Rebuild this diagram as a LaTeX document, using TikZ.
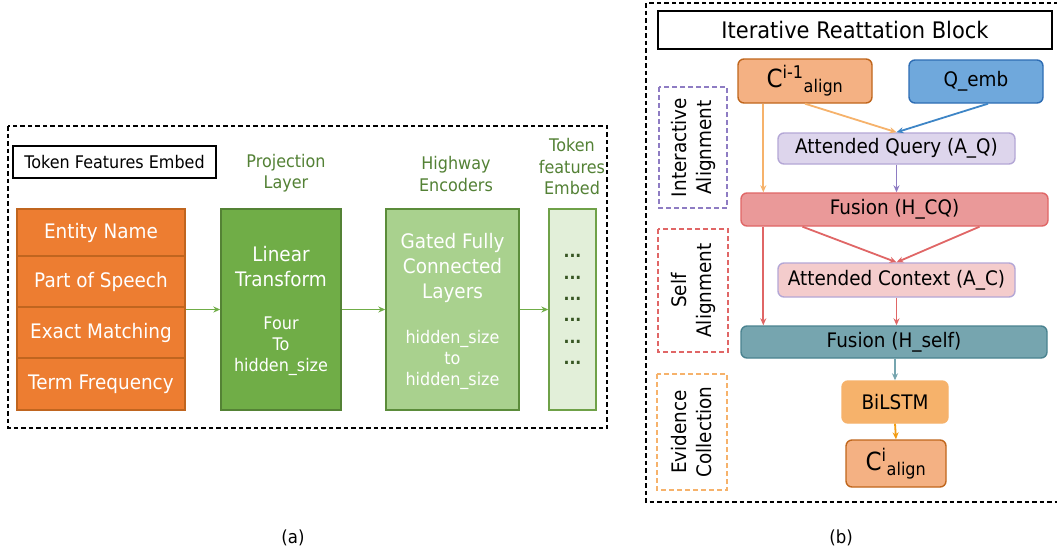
\documentclass[tikz,border=0pt]{standalone}
\usepackage{fontspec}
\setmainfont{DejaVu Sans}[FakeStretch=0.92]
\usetikzlibrary{arrows.meta}

\definecolor{featorange}{HTML}{ED7D31}
\definecolor{featedge}{HTML}{C0651F}
\definecolor{lingreen}{HTML}{70AD47}
\definecolor{linedge}{HTML}{548235}
\definecolor{hwgreen}{HTML}{A9D18E}
\definecolor{hwedge}{HTML}{5B8C3A}
\definecolor{embgreen}{HTML}{E2EFD9}
\definecolor{embedge}{HTML}{6FA148}
\definecolor{dotgreen}{HTML}{375623}
\definecolor{labgreen}{HTML}{538135}
\definecolor{calfill}{HTML}{F4B183}
\definecolor{caledge}{HTML}{C0661C}
\definecolor{qfill}{HTML}{6FA8DC}
\definecolor{qedge}{HTML}{2E6DB4}
\definecolor{aqfill}{HTML}{DDD5EC}
\definecolor{purpedge}{HTML}{B4A7D6}
\definecolor{hcqfill}{HTML}{EA9999}
\definecolor{rededge}{HTML}{E06666}
\definecolor{acfill}{HTML}{F4CCCC}
\definecolor{hselffill}{HTML}{76A5AF}
\definecolor{hselfedge}{HTML}{4A8390}
\definecolor{bifill}{HTML}{F6B26B}
\definecolor{qarrow}{HTML}{3D85C6}
\definecolor{parrow}{HTML}{8E7CC3}
\definecolor{barrow}{HTML}{F39C12}

\newcommand{\fbig}{\fontsize{20}{25}\selectfont}
\newcommand{\fsmall}{\fontsize{17.4}{21}\selectfont}
\newcommand{\flabel}{\fontsize{17.4}{21.5}\selectfont}

\tikzset{
  outerframe/.style={draw, line width=1.6pt, dash pattern=on 4.5pt off 3pt},
  titlebox/.style={draw, line width=1.4pt, inner sep=0pt},
  featrow/.style={draw=featedge, fill=featorange, line width=1.4pt, text=white, font=\fbig, minimum width=168pt, inner sep=0pt},
  layerbox/.style={draw, line width=1.4pt, minimum height=201pt, inner sep=0pt},
  boxtext/.style={text=white, align=center, inner sep=0pt},
  glabel/.style={text=labgreen, font=\flabel, align=center, inner sep=0pt},
  garrow/.style={-{Stealth[length=7pt,width=6pt]}, draw=lingreen, line width=1.8pt},
  blockbox/.style={draw, line width=1.4pt, rounded corners=6pt, font=\fbig, inner sep=0pt},
  sidebox/.style={draw, dashed, dash pattern=on 5pt off 3pt, line width=1.3pt, rotate=90, align=center, font=\fbig, inner sep=0pt},
  flow/.style={-{Stealth[length=7pt,width=6pt]}, line width=1.8pt},
}

\begin{document}
\begin{tikzpicture}[x=1pt,y=-1pt]
\clip (0,0) rectangle (1057,552);
\fill[white] (0,0) rectangle (1057,552);

% (a) token features embedding
\draw[outerframe] (8,126) rectangle (607,428);
\node[titlebox, font=\flabel, minimum width=203pt, minimum height=32pt] (tfe) at (114.5,162) {Token Features Embed};

\node[featrow, minimum height=47pt] (ent) at (101,232.5) {Entity Name};
\node[featrow, minimum height=51pt] (pos) at (101,281.5) {Part of Speech};
\node[featrow, minimum height=51pt] (exm) at (101,332.5) {Exact Matching};
\node[featrow, minimum height=52pt] (tfq) at (101,384) {Term Frequency};

\node[glabel] (projlab) at (286,173) {Projection\\Layer};
\node[layerbox, draw=linedge, fill=lingreen, minimum width=120pt] (lin) at (281,309.5) {};
\node[boxtext, font=\fbig] (lintxt) at (281,267) {Linear\\Transform};
\node[boxtext, font=\fsmall] (linsz) at (281,346) {Four\\To\\hidden\_size};

\node[glabel] (hwlab) at (456,174) {Highway\\Encoders};
\node[layerbox, draw=hwedge, fill=hwgreen, minimum width=133pt] (hw) at (452.5,309.5) {};
\node[boxtext, font=\fbig] (hwtxt) at (452.5,268) {Gated Fully\\Connected\\Layers};
\node[boxtext, font=\fsmall] (hwsz) at (452.5,360) {hidden\_size\\to\\hidden\_size};

\node[glabel] (emblab) at (572,167) {Token\\features\\Embed};
\node[layerbox, draw=embedge, fill=embgreen, minimum width=47pt, text=dotgreen, align=center,
      font=\fontsize{17}{21.4}\selectfont\bfseries] (emb) at (572.5,309.5) {...\\...\\...\\...\\...\\...};

\draw[garrow] (lin.west -| exm.east) -- (lin.west);
\draw[garrow] (hw.west -| lin.east) -- (hw.west);
\draw[garrow] (emb.west -| hw.east) -- (emb.west);

\node[font=\fontsize{18}{20}\selectfont] (capa) at (293,538) {(a)};

% (b) iterative reattation block
\draw[outerframe] (646,3) rectangle (1062,502);
\node[titlebox, font=\fontsize{22.8}{25}\selectfont, minimum width=394pt, minimum height=38pt] (irb) at (855,30) {Iterative Reattation Block};

\node[blockbox, draw=caledge, fill=calfill, minimum width=134pt, minimum height=44pt,
      font=\fontsize{25}{26}\selectfont] (cprev) at (805,81) {C\textsuperscript{i-1}\textsubscript{align}};
\node[blockbox, draw=qedge, fill=qfill, minimum width=134pt, minimum height=43pt] (qemb) at (976,81.5) {Q\_emb};
\node[blockbox, draw=purpedge, fill=aqfill, minimum width=237pt, minimum height=31pt] (aq) at (896.5,148.5) {Attended Query (A\_Q)};
\node[blockbox, draw=rededge, fill=hcqfill, minimum width=307pt, minimum height=33pt] (hcq) at (894.5,209.5) {Fusion (H\_CQ)};
\node[blockbox, draw=purpedge, fill=acfill, minimum width=237pt, minimum height=34pt] (ac) at (896.5,280) {Attended Context (A\_C)};
\node[blockbox, draw=hselfedge, fill=hselffill, minimum width=306pt, minimum height=32pt] (hself) at (894,342) {Fusion (H\_self)};
\node[blockbox, draw=bifill, fill=bifill, minimum width=106pt, minimum height=42pt] (bilstm) at (895,402) {BiLSTM};
\node[blockbox, draw=caledge, fill=calfill, minimum width=100pt, minimum height=47pt,
      font=\fontsize{25}{26}\selectfont] (ccur) at (896,463.5) {C\textsuperscript{i}\textsubscript{align}};

\node[sidebox, draw=parrow, minimum width=121pt, minimum height=68pt] (ia) at (693,147.5) {Interactive\\Alignment};
\node[sidebox, draw=rededge, minimum width=123pt, minimum height=70pt] (sa) at (693,290.5) {Self\\Alignment};
\node[sidebox, draw=bifill, minimum width=116pt, minimum height=70pt] (ec) at (692,432) {Evidence\\Collection};

\draw[flow, draw=bifill] ([xshift=26pt]cprev.south west) -- ([xshift=26pt]cprev.south west |- hcq.north);
\draw[flow, draw=bifill] (cprev.south) -- (aq.north);
\draw[flow, draw=qarrow] ([xshift=12pt]qemb.south) -- (aq.north);
\draw[flow, draw=parrow] (aq.south) -- (aq.south |- hcq.north);
\draw[flow, draw=rededge] ([xshift=23pt]hcq.south west) -- ([xshift=23pt]hcq.south west |- hself.north);
\draw[flow, draw=rededge] ([xshift=-92pt]hcq.south) -- (ac.north);
\draw[flow, draw=rededge] ([xshift=85pt]hcq.south) -- (ac.north);
\draw[flow, draw=rededge] (ac.south) -- (ac.south |- hself.north);
\draw[flow, draw=hselffill] (bilstm.north |- hself.south) -- (bilstm.north);
\draw[flow, draw=barrow] (bilstm.south) -- (ccur.north);

\node[font=\fontsize{18}{20}\selectfont] (capb) at (841,538) {(b)};
\end{tikzpicture}
\end{document}
